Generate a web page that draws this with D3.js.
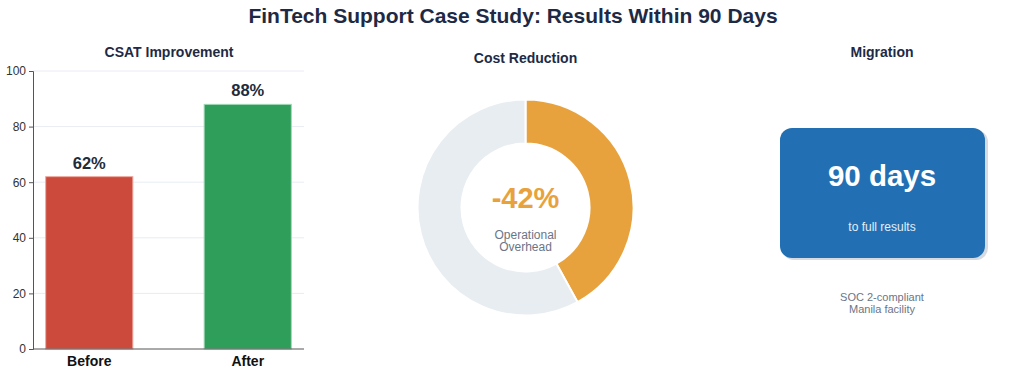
<!DOCTYPE html>
<html>
<head>
<meta charset="utf-8">
<script src="https://cdn.jsdelivr.net/npm/d3@7"></script>
<style>
  body { margin: 0; background: #fff; font-family: "Liberation Sans", Arial, sans-serif; }
  .axis text { font-size: 12px; fill: #333; }
  .axis path, .axis line { stroke: #555; }
</style>
</head>
<body>
<svg width="1024" height="376"></svg>
<script>
// data
var categories = ["Before", "After"];
var csatValues = [62, 88];
var yTicks = [0, 20, 40, 60, 80, 100];
var costShare = [42, 58]; // reduction vs remainder
var costLabel = "-42%";
var migrationDays = "90 days";

var svg = d3.select("svg");
var navy = "#1e2a45";

// main title
svg.append("text")
    .attr("x", 513).attr("y", 23)
    .attr("text-anchor", "middle")
    .style("font-size", "21px").style("font-weight", "bold")
    .style("fill", navy)
    .text("FinTech Support Case Study: Results Within 90 Days");

// ---- bar chart ----
var bar = {left: 33, right: 304, top: 71, bottom: 349};
var xb = d3.scaleBand().domain(categories).range([bar.left, bar.right])
    .paddingInner(0.45).paddingOuter(0.08);
var y = d3.scaleLinear().domain([0, 100]).range([bar.bottom, bar.top]);

svg.append("text")
    .attr("x", 169).attr("y", 57)
    .attr("text-anchor", "middle")
    .style("font-size", "14px").style("font-weight", "bold")
    .style("fill", navy)
    .text("CSAT Improvement");

// grid
svg.append("g").selectAll("line")
    .data(yTicks.slice(1))
  .enter().append("line")
    .attr("x1", bar.left).attr("x2", bar.right)
    .attr("y1", function(d) { return y(d); })
    .attr("y2", function(d) { return y(d); })
    .style("stroke", "#e8ecf2").style("stroke-width", 1);

var barColors = ["#cb4a3c", "#2e9e5a"];
var barEdge = ["#f0a9a0", "#9fd9b5"];
svg.selectAll(".bar")
    .data(csatValues)
  .enter().append("rect")
    .attr("class", "bar")
    .attr("x", function(d, i) { return xb(categories[i]); })
    .attr("width", xb.bandwidth())
    .attr("y", function(d) { return y(d); })
    .attr("height", function(d) { return y(0) - y(d); })
    .style("fill", function(d, i) { return barColors[i]; })
    .style("stroke", function(d, i) { return barEdge[i]; })
    .style("stroke-width", 1);

svg.selectAll(".barlabel")
    .data(csatValues)
  .enter().append("text")
    .attr("class", "barlabel")
    .attr("x", function(d, i) { return xb(categories[i]) + xb.bandwidth() / 2; })
    .attr("y", function(d) { return y(d) - 8; })
    .attr("text-anchor", "middle")
    .style("font-size", "16.5px").style("font-weight", "bold")
    .style("fill", "#222b3a")
    .text(function(d) { return d + "%"; });

var yAxis = d3.axisLeft(y).tickValues(yTicks).tickSize(4).tickPadding(3);
svg.append("g").attr("class", "axis")
    .attr("transform", "translate(" + bar.left + ",0)")
    .call(yAxis);

var xAxis = d3.axisBottom(xb).tickSize(0).tickPadding(7);
var gx = svg.append("g").attr("class", "axis")
    .attr("transform", "translate(0," + bar.bottom + ")")
    .call(xAxis);
gx.select(".domain").attr("d", "M" + bar.left + ",0H" + bar.right);
gx.selectAll("text").style("font-size", "14px").style("font-weight", "bold").style("fill", "#111");

// ---- donut ----
var cx = 525.5, cy = 207.5;
svg.append("text")
    .attr("x", cx).attr("y", 63)
    .attr("text-anchor", "middle")
    .style("font-size", "14px").style("font-weight", "bold")
    .style("fill", navy)
    .text("Cost Reduction");

var pie = d3.pie().sort(null).value(function(d) { return d; });
var arc = d3.arc().innerRadius(64).outerRadius(108);
svg.append("g")
    .attr("transform", "translate(" + cx + "," + cy + ")")
  .selectAll("path")
    .data(pie(costShare))
  .enter().append("path")
    .attr("d", arc)
    .style("fill", function(d, i) { return i === 0 ? "#e8a23d" : "#e8edf2"; })
    .style("stroke", "#fff").style("stroke-width", 2);

svg.append("text")
    .attr("x", cx).attr("y", 208)
    .attr("text-anchor", "middle")
    .style("font-size", "29px").style("font-weight", "bold")
    .style("fill", "#e8a23d")
    .text(costLabel);
svg.append("text")
    .attr("x", cx).attr("y", 239)
    .attr("text-anchor", "middle")
    .style("font-size", "12px").style("fill", "#6b7587")
    .text("Operational");
svg.append("text")
    .attr("x", cx).attr("y", 251)
    .attr("text-anchor", "middle")
    .style("font-size", "12px").style("fill", "#6b7587")
    .text("Overhead");

// ---- migration card ----
var mx = 882;
svg.append("text")
    .attr("x", mx).attr("y", 57)
    .attr("text-anchor", "middle")
    .style("font-size", "14px").style("font-weight", "bold")
    .style("fill", navy)
    .text("Migration");

svg.append("rect")
    .attr("x", 782).attr("y", 130)
    .attr("width", 206).attr("height", 130)
    .attr("rx", 12)
    .style("fill", "#d6dbe2");
svg.append("rect")
    .attr("x", 780).attr("y", 128)
    .attr("width", 205).attr("height", 130)
    .attr("rx", 12)
    .style("fill", "#2270b3");

svg.append("text")
    .attr("x", mx).attr("y", 186)
    .attr("text-anchor", "middle")
    .style("font-size", "29.5px").style("font-weight", "bold")
    .style("fill", "#fff")
    .text(migrationDays);
svg.append("text")
    .attr("x", mx).attr("y", 231)
    .attr("text-anchor", "middle")
    .style("font-size", "12px").style("fill", "#e6eef8")
    .text("to full results");

svg.append("text")
    .attr("x", mx).attr("y", 301)
    .attr("text-anchor", "middle")
    .style("font-size", "11px").style("fill", "#6b7587")
    .text("SOC 2-compliant");
svg.append("text")
    .attr("x", mx).attr("y", 313)
    .attr("text-anchor", "middle")
    .style("font-size", "11px").style("fill", "#6b7587")
    .text("Manila facility");
</script>
</body>
</html>
